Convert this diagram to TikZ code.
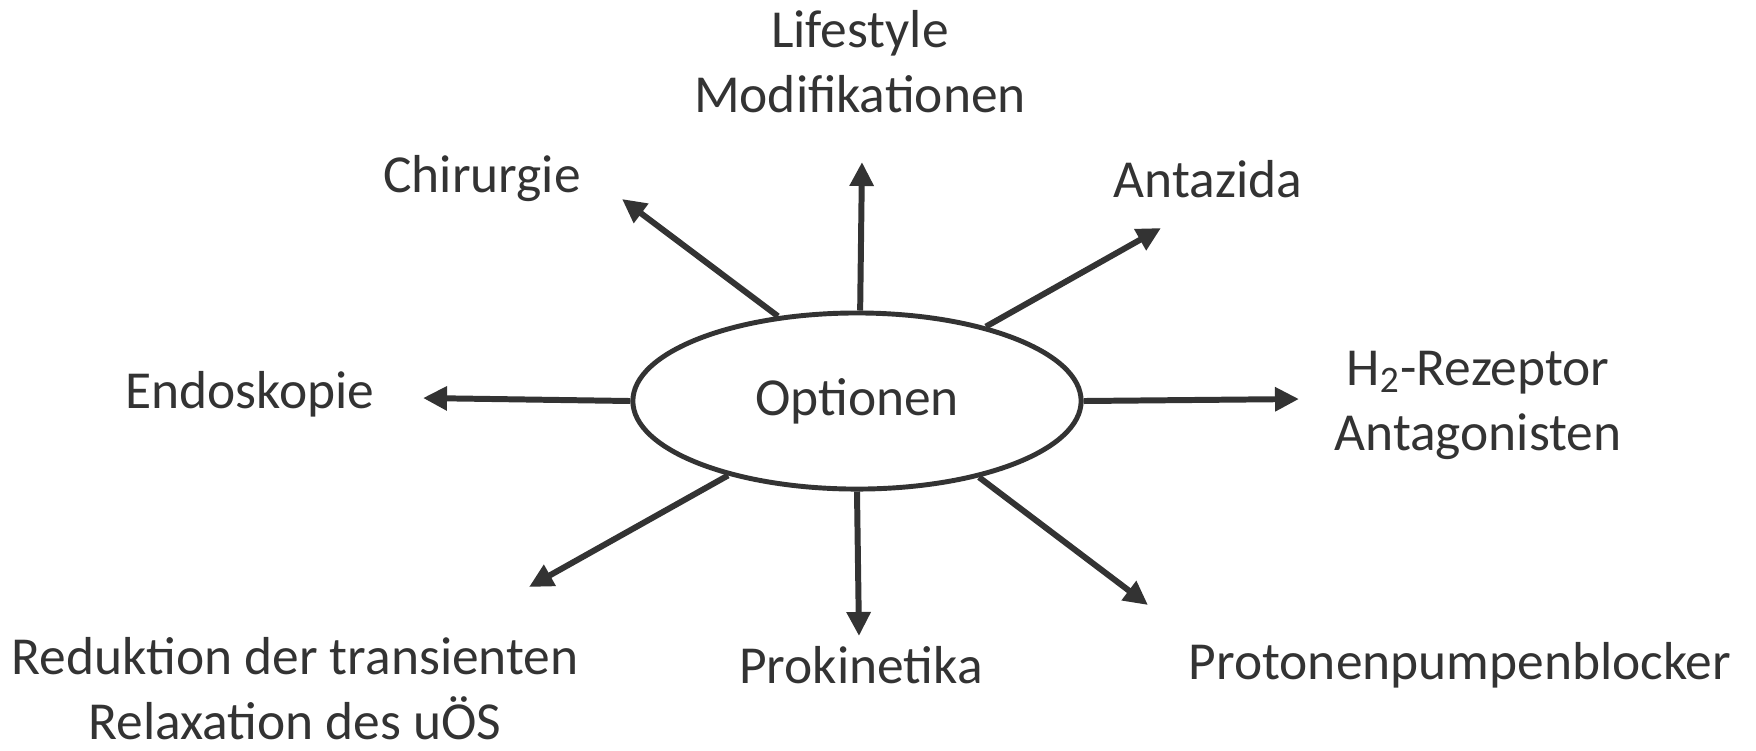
\documentclass[tikz,border=0pt]{standalone}
\usepackage{fontspec}
\setmainfont{Carlito}
\usepackage{xcolor}
\usetikzlibrary{shapes,arrows.meta,positioning,calc}
\definecolor{ink}{HTML}{333333}

\begin{document}
\begin{tikzpicture}[x=0.01cm,y=-0.01cm,
    font=\fontsize{15.2}{18.5}\selectfont, text=ink,
    label/.style={align=center, inner sep=0pt},
    arr/.style={-{Triangle[length=2.4mm,width=2.3mm]}, line width=1.7pt, draw=ink}]
    \useasboundingbox (0,0) rectangle (1756,750);

    % Centre
    \node[ellipse, draw=ink, line width=1.4pt, minimum width=4.48cm, minimum height=1.76cm, inner sep=0pt] (opt) at (857,401) {Optionen};

    % Options
    \node[label] (life) at (860,62) {Lifestyle\\Modifikationen};
    \node[label] (chir) at (482,179) {Chirurgie};
    \node[label] (anta) at (1208,179) {Antazida};
    \node[label] (endo) at (250,394) {Endoskopie};
    \node[label] (htwo) at (1478,405) {H\textsubscript{2}-Rezeptor\\Antagonisten};
    \node[label] (redu) at (295,689) {Reduktion der transienten\\Relaxation des uÖS};
    \node[label] (prok) at (861,665) {Prokinetika};
    \node[label] (ppb) at (1460,665) {Protonenpumpenblocker};

    % Arrow tips
    \coordinate (tlife) at (862,162);
    \coordinate (tchir) at (622,199);
    \coordinate (tanta) at (1161,228);
    \coordinate (tendo) at (423,398);
    \coordinate (thtwo) at (1299,399);
    \coordinate (tredu) at (529,587);
    \coordinate (tprok) at (859,636);
    \coordinate (tppb) at (1148,605);

    % Arrows
    \draw[arr] (opt.88) -- (tlife);
    \draw[arr] (opt.133.6) -- (tchir);
    \draw[arr] (opt.30.3) -- (tanta);
    \draw[arr] (opt.west) -- (tendo);
    \draw[arr] (opt.east) -- (thtwo);
    \draw[arr] (opt.210.7) -- (tredu);
    \draw[arr] (opt.south) -- (tprok);
    \draw[arr] (opt.328.5) -- (tppb);
\end{tikzpicture}
\end{document}
